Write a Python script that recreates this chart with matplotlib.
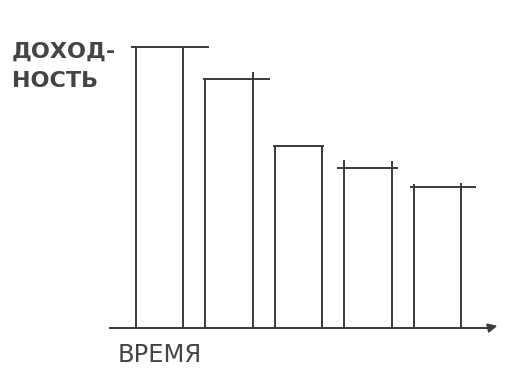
import matplotlib
matplotlib.use('Agg')
import matplotlib.pyplot as plt

# Данные (условные единицы доходности по периодам)
periods = [0, 1, 2, 3, 4]
dokhod = [100, 88.6, 64.8, 56.9, 50.2]
ylabel_lines = ['ДОХОД-', 'НОСТЬ']
xlabel_txt = 'ВРЕМЯ'

# Стиль "от руки": выступы линий за углы столбцов
over_left = [0.07, 0.03, 0.03, 0.11, 0.06]
over_right = [0.37, 0.25, 0.03, 0.09, 0.22]
up_left = [0, 0, 0, 2.8, 1.0]
up_right = [0, 2.5, 0, 2.5, 1.5]
width = 0.68
col = '#3a3a3a'

fig = plt.figure(figsize=(5.11, 3.69), dpi=100)
ax = fig.add_axes([110/511, 41/369, 390/511, 328/369])
ax.set_xlim(-0.713, 4.9)
ax.set_ylim(0, 116.7)
ax.axis('off')

for i, h in zip(periods, dokhod):
    l = i - width/2
    r = i + width/2
    ax.vlines(l, 0, h + up_left[i], color=col, lw=1.4)
    ax.vlines(r, 0, h + up_right[i], color=col, lw=1.4)
    ax.hlines(h, l - over_left[i], r + over_right[i], color=col, lw=1.4)

# Ось времени со стрелкой
ax.plot([-0.713, 4.75], [0, 0], color=col, lw=1.4, clip_on=False)
ax.annotate('', xy=(4.9, 1.0), xytext=(4.68, -0.3),
            arrowprops=dict(arrowstyle='-|>', color=col, lw=1.2, mutation_scale=14),
            annotation_clip=False)

# Подпись оси доходности в две строки
for k, (txt, yp) in enumerate(zip(ylabel_lines, [52, 81])):
    fig.text(12/511, 1 - yp/369, txt, fontsize=16, color='#444444',
             fontweight='bold', va='center', ha='left')
fig.text(118/511, 1 - 355/369, xlabel_txt, fontsize=17.5, color='#444444',
         va='center', ha='left')

fig.savefig('out.png', dpi=100)
